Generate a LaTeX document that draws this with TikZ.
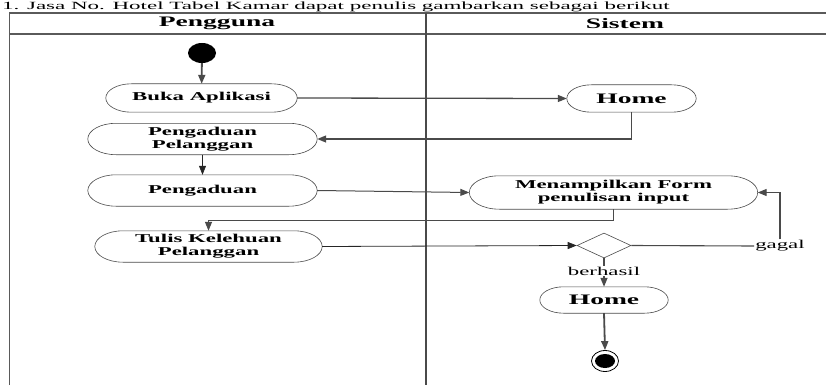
\documentclass[tikz,border=0pt]{standalone}
\usepackage{graphicx}
\usepackage{fontspec}
\setmainfont{Liberation Serif}
\newfontfamily\widefont[FakeStretch=1.9]{Liberation Serif}
\usetikzlibrary{shapes.geometric,arrows.meta,calc}

\definecolor{linegray}{HTML}{4A4A4A}
\definecolor{framegray}{HTML}{5A5A5A}

\tikzset{
  actnode/.style={rectangle, inner sep=0pt, align=center,
    font=\widefont\bfseries\fontsize{12}{13}\selectfont},
  bignode/.style={actnode, font=\widefont\bfseries\fontsize{14.5}{16}\selectfont},
  nodeborder/.style={draw=linegray, line width=0.6pt},
  headtext/.style={font=\widefont\bfseries\fontsize{14.5}{16}\selectfont},
  guardtext/.style={font=\widefont\fontsize{12}{13}\selectfont, inner sep=1pt},
  flow/.style={draw=linegray, line width=1.3pt,
    -{Triangle[length=9pt,width=7pt]}},
  thinflow/.style={draw=black!85, line width=0.8pt,
    -{Triangle[length=9pt,width=7pt]}},
  plainline/.style={draw=linegray, line width=1.1pt},
  frame/.style={draw=framegray, line width=1.2pt},
}

% outline of an action node: straight top and bottom, elliptic ends
\newcommand\stadiumborder[1]{%
  \draw[nodeborder] let \p1=(#1.north west), \p2=(#1.south east),
      \n1={(\y1-\y2)/2}, \n2={1.8*(\y1-\y2)/2} in
    (\x1+\n2,\y1) -- (\x2-\n2,\y1)
    arc[start angle=90, end angle=-90, x radius=\n2, y radius=\n1]
    -- (\x1+\n2,\y2)
    arc[start angle=270, end angle=90, x radius=\n2, y radius=\n1] -- cycle;}

\begin{document}
\begin{tikzpicture}[x=1pt,y=-1pt]
\useasboundingbox (0,0) rectangle (826,385);
\clip (0,0) rectangle (826,385);

% running text above the table
\node[anchor=base west, inner sep=0pt, font=\widefont\fontsize{11}{12}\selectfont]
  (caption) at (2,9.5) {\scalebox{1.1}[1]{1. Jasa No. Hotel Tabel Kamar dapat penulis gambarkan sebagai berikut}};

% swimlane frame
\draw[frame] (9.5,385) -- (9.5,13) -- (826,13);
\draw[frame] (9.5,34) -- (826,34);
\draw[frame, line width=2pt, draw=linegray] (425.5,13) -- (425.5,385);
\node[headtext] (lane1) at (217,23.5) {Pengguna};
\node[headtext] (lane2) at (625,23.5) {Sistem};

% user lane
\node[ellipse, fill=black, minimum width=28pt, minimum height=20pt, inner sep=0pt] (start) at (202,53) {};
\node[actnode, minimum width=191pt, minimum height=28pt] (buka) at (201.5,98) {Buka Aplikasi};
\node[actnode, minimum width=229pt, minimum height=31pt] (pp) at (202.5,139) {Pengaduan\\Pelanggan};
\node[actnode, minimum width=229pt, minimum height=31pt] (peng) at (202.5,190.5) {Pengaduan};
\node[actnode, minimum width=227pt, minimum height=31pt] (tulis) at (208.5,246.5) {Tulis Kelehuan\\Pelanggan};

% system lane
\node[bignode, minimum width=129pt, minimum height=27pt] (home1) at (631.5,98.5) {Home};
\node[actnode, minimum width=288pt, minimum height=33pt] (form) at (613.5,192.5) {Menampilkan Form\\penulisan input};
\node[diamond, draw=linegray, line width=0.6pt, minimum width=54pt, minimum height=25pt, inner sep=0pt] (dec) at (604,245.5) {};
\node[guardtext] (gagal) at (780,246) {gagal};
\node[guardtext] (berhasil) at (604,271) {berhasil};
\node[bignode, minimum width=128pt, minimum height=26pt] (home2) at (604,300) {Home};
\node[ellipse, draw=black, line width=0.8pt, minimum width=27pt, minimum height=21pt, inner sep=0pt] (end) at (605,361) {};
\node[ellipse, fill=black, minimum width=20pt, minimum height=14pt, inner sep=0pt] (endin) at (end.center) {};

\stadiumborder{buka}
\stadiumborder{pp}
\stadiumborder{peng}
\stadiumborder{tulis}
\stadiumborder{home1}
\stadiumborder{form}
\stadiumborder{home2}

% control flow
\draw[flow, line width=1.8pt] (start) -- (buka);
\draw[flow] (buka.east) -- (home1.west);
\draw[flow] (home1.south) |- (pp.east);
\draw[thinflow] (pp) -- (peng);
\draw[flow, line width=1pt] (peng.east) -- (form.west);
\draw[flow] (form.south) -- ++(0,11) -| (tulis.north);
\draw[thinflow] (tulis.east) -- (dec.west);
\draw[plainline] (dec.east) -- (gagal.west);
\draw[flow] (gagal.north) |- (form.east);
\draw[plainline, line width=1.6pt] (dec.south) -- (berhasil.north);
\draw[flow] (berhasil.south) -- (home2.north);
\draw[flow, line width=1.8pt] (home2.south) -- (end.north);
\end{tikzpicture}
\end{document}
